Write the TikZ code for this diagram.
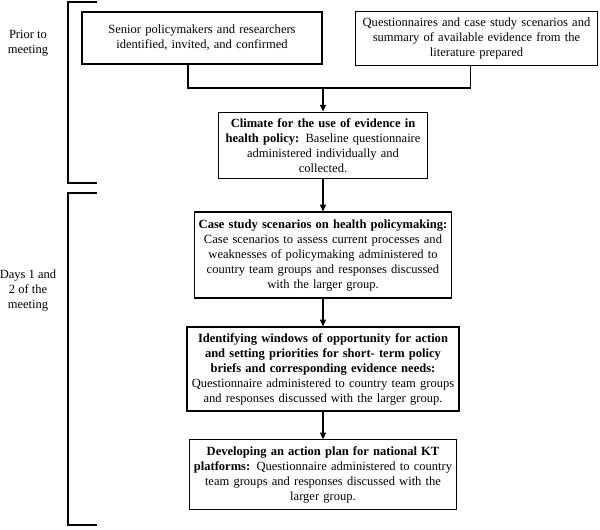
\documentclass[tikz,border=0pt]{standalone}
\usepackage{fontspec}
\setmainfont{Liberation Serif}
\usetikzlibrary{arrows.meta}
\tikzset{
  stepbox/.style={draw,line width=0.9pt,align=center,inner sep=2pt,
    font=\fontsize{9.4}{11.25}\selectfont},
  flow/.style={line width=0.9pt,-{Triangle[length=5pt,width=4.5pt]}},
  side/.style={align=center,font=\fontsize{9.4}{11.25}\selectfont}
}
\begin{document}
\begin{tikzpicture}[x=0.75pt,y=-0.75pt]
    \useasboundingbox (0,0) rectangle (600,529);
    % boxes before the meeting
    \node (senior) [stepbox, text width=176pt, minimum height=39pt] at (202,38)
        {Senior policymakers and researchers\\ identified, invited, and confirmed};
    \node (quest) [stepbox, text width=178pt, minimum height=40pt] at (476.5,38.5)
        {Questionnaires and case study scenarios and\\ summary of available evidence from the\\ literature prepared};
    \node (climate) [stepbox, text width=153pt, minimum height=50pt] at (323,145.5)
        {\textbf{Climate for the use of evidence in}\\ \textbf{health policy:} Baseline questionnaire\\ administered individually and\\ collected.};
    % boxes of days 1 and 2
    \node (cases) [stepbox, text width=189pt, minimum height=64.5pt] at (323,255)
        {\textbf{Case study scenarios on health policymaking:}\\ Case scenarios to assess current processes and\\ weaknesses of policymaking administered to\\ country team groups and responses discussed\\ with the larger group.};
    \node (windows) [stepbox, text width=200pt, minimum height=63pt] at (323,369)
        {\textbf{Identifying windows of opportunity for action}\\ \textbf{and setting priorities for short- term policy}\\ \textbf{briefs and corresponding evidence needs:}\\ Questionnaire administered to country team groups\\ and responses discussed with the larger group.};
    \node (plan) [stepbox, text width=196pt, minimum height=52pt] at (323,474.5)
        {\textbf{Developing an action plan for national KT}\\ \textbf{platforms:} Questionnaire administered to country\\ team groups and responses discussed with the\\ larger group.};
    % side labels
    \node (prior) [side] at (28,43) {Prior to\\ meeting};
    \node (days) [side] at (28,290) {Days 1 and\\ 2 of the\\ meeting};
    % brackets
    \draw[line width=0.9pt] (97,2) -- (68,2) -- (68,183) -- (97,183);
    \draw[line width=0.9pt] (97,193) -- (68,193) -- (68,525) -- (97,525);
    % connectors
    \coordinate (join) at (323,88);
    \draw[line width=0.9pt] ([xshift=-10.5pt]senior.south) |- (join) -| ([xshift=-4.5pt]quest.south);
    \draw[flow] (join) -- (climate);
    \draw[flow] (climate) -- (cases);
    \draw[flow] (cases) -- (windows);
    \draw[flow] (windows) -- (plan);
\end{tikzpicture}
\end{document}
